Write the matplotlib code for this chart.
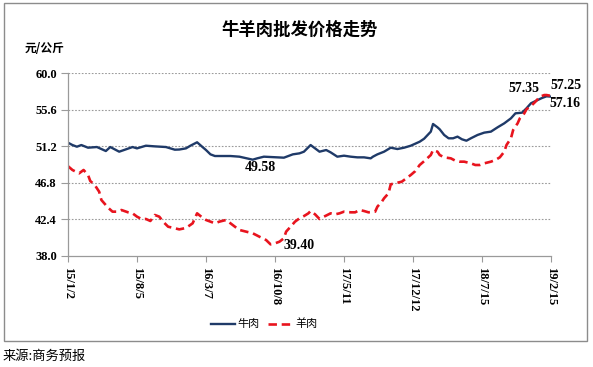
import matplotlib.pyplot as plt
from matplotlib.patches import Rectangle

plt.rcParams['font.family'] = ['Noto Sans CJK SC', 'DejaVu Sans']

# weekly index on a category axis, values in yuan/kg
beef_x = [0, 2, 4, 6, 9, 13, 17, 19, 23, 26, 29, 31, 35, 39, 44, 48, 50, 53, 55, 58, 60,
          62, 64, 66, 73, 77, 83, 85, 88, 94, 97, 101, 104, 106, 109, 111, 113, 116, 118,
          121, 124, 127, 130, 133, 136, 137, 139, 142, 145, 148, 151, 154, 156, 158, 160,
          163, 164, 166, 167, 169, 171, 173, 175, 177, 179, 181, 184, 187, 190, 193, 196,
          199, 201, 204, 206, 208, 211, 213, 215, 217]
beef = [51.62, 51.34, 51.14, 51.34, 51.02, 51.10, 50.62, 51.10, 50.54, 50.82, 51.10, 50.94,
        51.26, 51.18, 51.10, 50.78, 50.80, 50.94, 51.26, 51.67, 51.20,
        50.74, 50.22, 50.02, 50.02, 49.94, 49.58, 49.74, 49.94, 49.86, 49.82, 50.22, 50.34,
        50.54, 51.34, 50.94, 50.54, 50.74, 50.46,
        49.94, 50.06, 49.94, 49.86, 49.86, 49.74, 49.94, 50.22, 50.54, 51.02, 50.86, 51.02,
        51.26, 51.50, 51.74, 52.10,
        52.95, 53.87, 53.47, 53.23, 52.55, 52.15, 52.15, 52.35, 52.03, 51.86, 52.15, 52.55,
        52.83, 52.95, 53.47, 53.95,
        54.55, 55.15, 55.23, 55.76, 56.36, 56.75, 57.00, 57.20, 57.16]

mutton_x = [0, 2, 5, 7, 9, 10, 12, 14, 15, 18, 20, 22, 24, 27, 29, 31, 33, 35, 37, 39, 41,
            43, 45, 47, 50, 53, 56, 58, 60, 62, 64, 66, 68, 71, 73, 75, 77, 80, 83, 86, 89,
            91, 93, 95, 97, 98, 100, 102, 104, 106, 108, 109, 111, 113, 115, 118, 120, 122,
            124, 127, 129, 131, 133, 135, 138, 139, 141, 142, 144, 145, 147, 150, 152, 154,
            156, 158, 160, 163, 164, 166, 167, 169, 172, 174, 176, 178, 181, 183, 185, 187,
            190, 192, 194, 196, 197, 199, 200, 202, 203, 205, 206, 208, 210, 212, 214, 215,
            217]
mutton = [48.80, 48.34, 47.94, 48.34, 47.74, 47.02, 46.54, 45.73, 44.73, 43.81, 43.33, 43.33,
          43.53, 43.25, 43.13, 42.73, 42.45, 42.45, 42.21, 42.93, 42.73,
          42.05, 41.52, 41.40, 41.20, 41.37, 41.93, 43.13, 42.70, 42.33, 42.13, 41.93, 42.13,
          42.33, 41.93, 41.52, 41.13, 40.93, 40.73, 40.32, 39.92,
          39.40, 39.52, 39.72, 40.13, 40.93, 41.52, 42.13, 42.53, 42.80, 43.13, 43.41, 43.01,
          42.45, 42.73, 43.13, 43.01, 43.13,
          43.33, 43.25, 43.25, 43.53, 43.41, 43.25, 43.33, 43.93, 44.53, 44.94, 45.54, 46.62,
          46.74, 46.94, 47.34, 47.74,
          48.20, 48.94, 49.40, 50.14, 50.74, 50.54, 50.14, 49.86, 49.74, 49.46, 49.34, 49.34,
          49.14, 48.94, 48.94, 49.14,
          49.34, 49.54, 49.86, 50.54, 51.34, 52.15, 53.15, 53.95, 54.55, 55.15, 55.64, 56.03,
          56.55, 57.15, 57.35, 57.35,
          57.25]

tick_pos = [0, 31, 62, 93, 124, 155, 186, 217]
tick_labels = ['15/1/2', '15/8/5', '16/3/7', '16/10/8', '17/5/11', '17/12/12', '18/7/15', '19/2/15']
y_ticks = [38.0, 42.4, 46.8, 51.2, 55.6, 60.0]

num_font = dict(family='Liberation Serif', fontweight='bold')

fig = plt.figure(figsize=(5.93, 3.67), dpi=100)
ax = fig.add_axes([68 / 593, 1 - 256 / 367, 483 / 593, 183 / 367])

for v in y_ticks[1:]:
    ax.axhline(v, color='#9a9a9a', lw=0.8, ls=(0, (1.5, 1.5)), zorder=0)

l1, = ax.plot(beef_x, beef, color='#1f3a68', lw=1.7, label='牛肉')
l2, = ax.plot(mutton_x, mutton, color='#e8141e', lw=1.9, ls=(0, (3.2, 1.8)), label='羊肉')

ax.set_xlim(0, 217)
ax.set_ylim(38, 60)
ax.set_yticks(y_ticks)
ax.set_yticklabels(['%.1f' % v for v in y_ticks], fontsize=9, **num_font)
ax.set_xticks(tick_pos)
ax.set_xticklabels(tick_labels, rotation=-90, fontsize=9, **num_font)
ax.tick_params(axis='x', length=4, color='#9a9a9a', pad=4)
ax.tick_params(axis='y', length=5, color='#9a9a9a', pad=3)
for s in ['top', 'right']:
    ax.spines[s].set_visible(False)
for s in ['left', 'bottom']:
    ax.spines[s].set_color('#9a9a9a')
    ax.spines[s].set_linewidth(0.9)

# value labels
ax.text(86.3, 48.58, '49.58', ha='center', va='center', fontsize=10, **num_font)
ax.text(103.8, 39.26, '39.40', ha='center', va='center', fontsize=10, **num_font)
ax.text(212, 58.08, '57.35', ha='right', va='center', fontsize=10, clip_on=False, **num_font)
ax.text(216.6, 58.47, '57.25', ha='left', va='center', fontsize=10, clip_on=False, **num_font)
ax.text(216.1, 56.39, '57.16', ha='left', va='center', fontsize=10, clip_on=False, **num_font)

fig.text(300 / 593, 1 - 30 / 367, '牛羊肉批发价格走势', ha='center', va='center',
         fontsize=12.5, fontweight='bold')
fig.text(25 / 593, 1 - 49 / 367, '元/公斤', ha='left', va='center', fontsize=8.5,
         fontweight='bold')

fig.legend([l1, l2], ['牛肉', '羊肉'], loc='center', ncol=2, frameon=False,
           bbox_to_anchor=(264 / 593, 1 - 324 / 367), fontsize=8, handlelength=2.2,
           handletextpad=0.2, columnspacing=0.8)

fig.patches.append(Rectangle((4 / 593, 1 - 341 / 367), 583 / 593, 338 / 367,
                             transform=fig.transFigure, fill=False,
                             edgecolor='#8c8c8c', lw=1))

fig.text(3 / 593, 1 - 356 / 367, '来源:商务预报', ha='left', va='center', fontsize=9.5)

fig.savefig('out.png', dpi=100)
